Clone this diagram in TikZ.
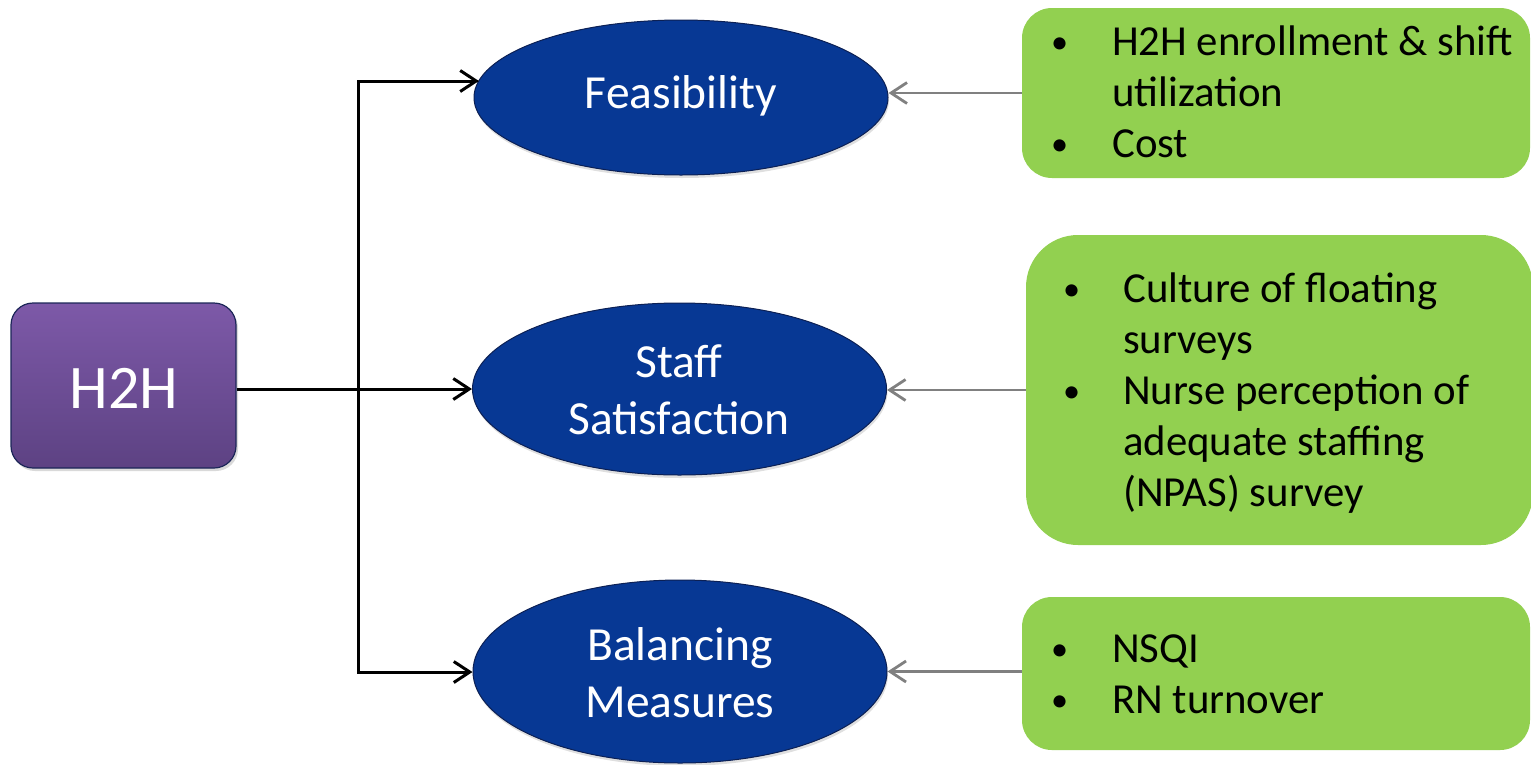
\documentclass[tikz,border=0pt]{standalone}
\usepackage{fontspec}
\setmainfont{Carlito}
\usetikzlibrary{arrows.meta,shapes.geometric,shadows}

\definecolor{roottop}{RGB}{125,89,168}
\definecolor{rootbot}{RGB}{93,66,131}
\definecolor{rootedge}{RGB}{28,38,88}
\definecolor{ovalfill}{RGB}{7,56,148}
\definecolor{ovaledge}{RGB}{12,32,84}
\definecolor{leaf}{RGB}{146,208,80}
\definecolor{feed}{RGB}{128,128,128}

\tikzset{barb/.tip={Straight Barb[length=16pt, width=21pt]}}
\newcommand{\dotmark}{\raisebox{1.5pt}{\scalebox{0.8}{•}}}

\begin{document}
\begin{tikzpicture}[x=1pt,y=-1pt,
  rootbox/.style={rectangle, rounded corners=22pt, top color=roottop,
    bottom color=rootbot, draw=rootedge, line width=1.2pt,
    minimum width=225pt, minimum height=165pt, inner sep=0pt,
    drop shadow={opacity=0.3, shadow xshift=2pt, shadow yshift=-3pt}},
  oval/.style={ellipse, fill=ovalfill, draw=ovaledge, line width=1pt,
    minimum width=414pt, inner sep=0pt,
    drop shadow={opacity=0.25, shadow xshift=1pt, shadow yshift=-3pt}},
  leafbox/.style={rectangle, fill=leaf, inner sep=0pt},
  roottext/.style={text=white, font=\fontsize{62}{74}\selectfont, inner sep=0pt},
  ovaltext/.style={text=white, font=\fontsize{47.5}{57.5}\selectfont, inner sep=0pt, anchor=base},
  leaftext/.style={text=black, font=\fontsize{42.8}{51.2}\selectfont, inner sep=0pt, anchor=base west},
  trunk/.style={draw=black, line width=3pt, line join=miter},
  feedline/.style={draw=feed, line width=2.8pt}
]
\useasboundingbox (0,0) rectangle (1531,764);

% root of the tree
\node[rootbox] (h2h) at (123.5,385.5) {};
\node[roottext, anchor=base] (h2hlabel) at (124,408) {H2H};

% the three measure groups
\node[oval, minimum height=155pt] (e1) at (681,97.5) {};
\node[oval, minimum height=172pt] (e2) at (679.5,389) {};
\node[oval, minimum height=183pt] (e3) at (680,671.5) {};
\node[ovaltext] (e1label) at (681,108) {Feasibility};
\node[ovaltext] (e2label) at (679,377)
  {\begin{tabular}[t]{@{}c@{}}Staff\\Satisfaction\end{tabular}};
\node[ovaltext] (e3label) at (680,660)
  {\begin{tabular}[t]{@{}c@{}}Balancing\\Measures\end{tabular}};

% data sources for each group
\node[leafbox, rounded corners=30pt, minimum width=508pt, minimum height=170pt] (g1) at (1276,93) {};
\node[leafbox, rounded corners=52pt, minimum width=507pt, minimum height=310pt] (g2) at (1279.5,390) {};
\node[leafbox, rounded corners=30pt, minimum width=508pt, minimum height=153pt] (g3) at (1276,673.5) {};

\node[leaftext] (g1text) at (1051,55)
  {\begin{tabular}[t]{@{}p{61pt}@{}l@{}}
   \dotmark& H2H enrollment \& shift\\
    & utilization\\
   \dotmark& Cost
   \end{tabular}};
\node[leaftext] (g2text) at (1063,302)
  {\begin{tabular}[t]{@{}p{60pt}@{}l@{}}
   \dotmark& Culture of floating\\
    & surveys\\
   \dotmark& Nurse perception of\\
    & adequate staffing\\
    & (NPAS) survey
   \end{tabular}};
\node[leaftext] (g3text) at (1051,662)
  {\begin{tabular}[t]{@{}p{61pt}@{}l@{}}
   \dotmark& NSQI\\
   \dotmark& RN turnover
   \end{tabular}};

% branching connectors from the root
\coordinate (jt) at (358,81);
\coordinate (jb) at (358,672);
\draw[trunk, {barb}-{barb}] (jt -| e1.175) -- (jt) -- (jb) -- (jb -| e3.west);
\draw[trunk, -{barb}] (h2h.east |- e2.west) -- (e2.west);

% feeds from the data sources
\draw[feedline, -{barb}] (g1.west) -- (g1.west -| e1.east);
\draw[feedline, -{barb}] (g2.west) -- (g2.west -| e2.east);
\draw[feedline, -{barb}] (g3.west |- e3.east) -- (e3.east);
\end{tikzpicture}
\end{document}
